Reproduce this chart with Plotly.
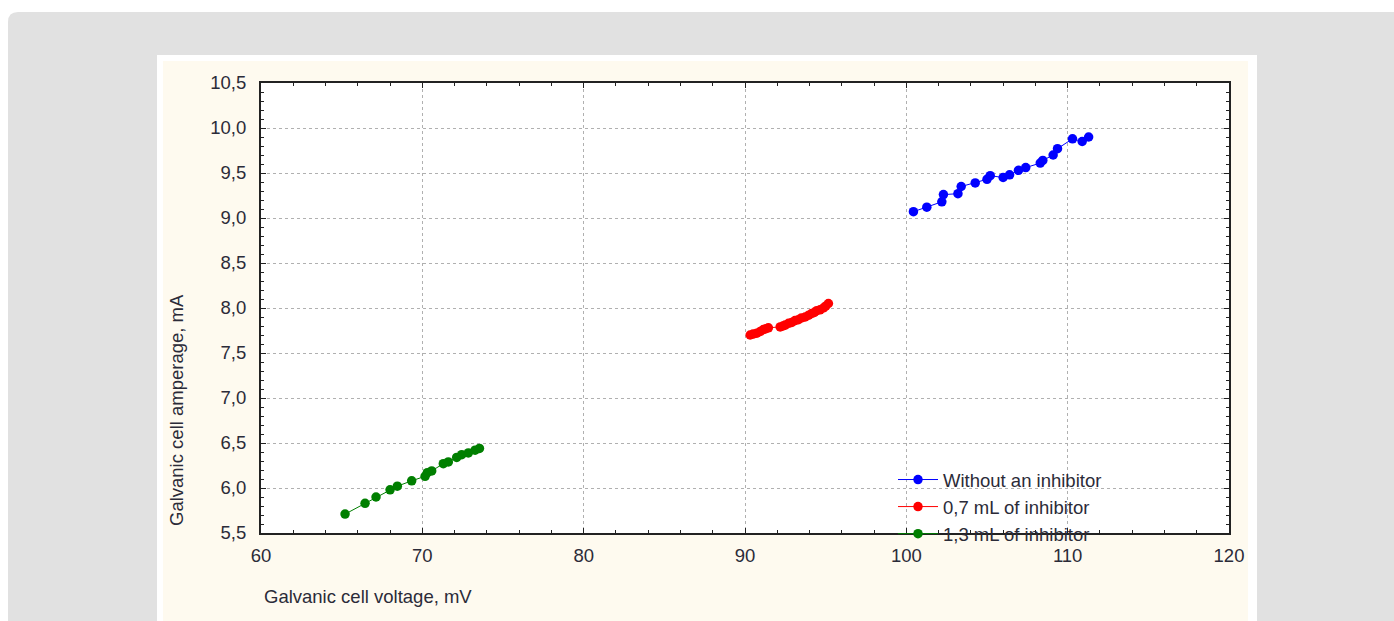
import plotly.graph_objects as go

# ---- data ----
x_without = [100.44, 101.27, 102.2, 102.3, 103.2, 103.4, 104.27, 105.0, 105.2, 106.0,
             106.4, 106.95, 107.4, 108.3, 108.46, 109.1, 109.37, 110.3, 110.9, 111.3]
y_without = [9.07, 9.12, 9.18, 9.26, 9.27, 9.35, 9.39, 9.43, 9.47, 9.45,
             9.48, 9.53, 9.56, 9.61, 9.64, 9.70, 9.77, 9.88, 9.85, 9.90]

x_07 = [90.32, 90.5, 90.73, 90.95, 91.14, 91.3, 91.45, 92.18, 92.35, 92.49, 92.7, 92.9,
        93.1, 93.31, 93.5, 93.73, 93.95, 94.14, 94.3, 94.45, 94.65, 94.86, 95.0, 95.17]
y_07 = [7.70, 7.71, 7.72, 7.74, 7.76, 7.77, 7.78, 7.79, 7.80, 7.81, 7.83, 7.84,
        7.86, 7.87, 7.89, 7.90, 7.92, 7.94, 7.95, 7.97, 7.98, 8.00, 8.02, 8.05]

x_13 = [65.21, 66.45, 67.13, 68.0, 68.45, 69.34, 70.17, 70.31, 70.58, 71.3,
        71.61, 72.13, 72.44, 72.85, 73.27, 73.54]
y_13 = [5.71, 5.83, 5.90, 5.98, 6.02, 6.08, 6.13, 6.17, 6.19, 6.27,
        6.29, 6.34, 6.37, 6.39, 6.42, 6.44]

series_names = ["Without an inhibitor", "0,7 mL of inhibitor", "1,3 mL of inhibitor"]
series_colors = ["#0000ff", "#ff0000", "#007f00"]

x_tickvals = [60, 70, 80, 90, 100, 110, 120]
x_ticktext = ["60", "70", "80", "90", "100", "110", "120"]
y_tickvals = [5.5, 6.0, 6.5, 7.0, 7.5, 8.0, 8.5, 9.0, 9.5, 10.0, 10.5]
y_ticktext = ["5,5", "6,0", "6,5", "7,0", "7,5", "8,0", "8,5", "9,0", "9,5", "10,0", "10,5"]

x_title = "Galvanic cell voltage, mV"
y_title = "Galvanic cell amperage, mA"

# ---- layout geometry (pixels) ----
W, H = 1394, 621
L, R, T, B = 261, 1229, 83, 533
pw, ph = R - L, B - T


def px(x):
    return (x - L) / pw


def py(y):
    return (B - y) / ph


fig = go.Figure()
for xs, ys, name, col in zip([x_without, x_07, x_13], [y_without, y_07, y_13],
                             series_names, series_colors):
    fig.add_trace(go.Scatter(
        x=xs, y=ys, mode="lines+markers", name=name,
        line=dict(color=col, width=1),
        marker=dict(color=col, size=9.5, symbol="circle"),
    ))

# background shapes
r = 10
gx0, gy0, gx1, gy1 = 8, 12, W + 20, H + 20
rounded = (f"M {px(gx0)},{py(gy0 + r)} Q {px(gx0)},{py(gy0)} {px(gx0 + r)},{py(gy0)} "
           f"L {px(gx1)},{py(gy0)} L {px(gx1)},{py(gy1)} L {px(gx0)},{py(gy1)} Z")
shapes = [
    dict(type="path", path=rounded, xref="paper", yref="paper",
         fillcolor="#e1e1e1", line=dict(width=0), layer="below"),
    dict(type="rect", xref="paper", yref="paper", x0=px(157), x1=px(1257), y0=py(55), y1=py(H + 20),
         fillcolor="#ffffff", line=dict(width=0), layer="below"),
    dict(type="rect", xref="paper", yref="paper", x0=px(163), x1=px(1248), y0=py(61), y1=py(H + 20),
         fillcolor="#fefaef", line=dict(width=0), layer="below"),
    dict(type="rect", xref="paper", yref="paper", x0=0, x1=1, y0=0, y1=1,
         fillcolor="#ffffff", line=dict(width=0), layer="below"),
]

FONT = "Liberation Sans, Arial"
font_col = "#2b2b38"
FS = 18.5
axis_common = dict(
    showline=True, linecolor="#222222", linewidth=2, mirror="ticks",
    ticks="inside", ticklen=5, tickcolor="#222222", tickwidth=1,
    showgrid=True, gridcolor="#b0b0b0", griddash="dot", gridwidth=1,
    zeroline=False, tickfont=dict(family=FONT, size=FS, color=font_col),
)

fig.update_layout(
    width=W, height=H,
    margin=dict(l=L, r=W - R, t=T, b=H - B, pad=0),
    paper_bgcolor="#ffffff", plot_bgcolor="rgba(0,0,0,0)",
    shapes=shapes,
    showlegend=True,
    legend=dict(x=px(893), y=py(461), xanchor="left", yanchor="top",
                bgcolor="rgba(0,0,0,0)", borderwidth=0,
                font=dict(family=FONT, size=FS, color=font_col),
                itemwidth=40, tracegroupgap=0),
    xaxis=dict(range=[60, 120], tickvals=x_tickvals, ticktext=x_ticktext,
               minor=dict(dtick=2, ticks="inside", ticklen=3, tickcolor="#222222", showgrid=False),
               ticklabelstandoff=5, **axis_common),
    yaxis=dict(range=[5.5, 10.5], tickvals=y_tickvals, ticktext=y_ticktext,
               minor=dict(dtick=0.1, ticks="inside", ticklen=3, tickcolor="#222222", showgrid=False),
               ticklabelstandoff=9, **axis_common),
    annotations=[
        dict(text=x_title, xref="paper", yref="paper", x=px(262), y=py(596),
             xanchor="left", yanchor="middle", showarrow=False,
             font=dict(family=FONT, size=FS, color=font_col)),
        dict(text=y_title, xref="paper", yref="paper", x=px(176), y=py(410),
             xanchor="center", yanchor="middle", showarrow=False, textangle=-90,
             font=dict(family=FONT, size=FS, color=font_col)),
    ],
)

fig.write_html("out.html", config={"displayModeBar": False},
               post_script="document.body.style.margin='0px';")
